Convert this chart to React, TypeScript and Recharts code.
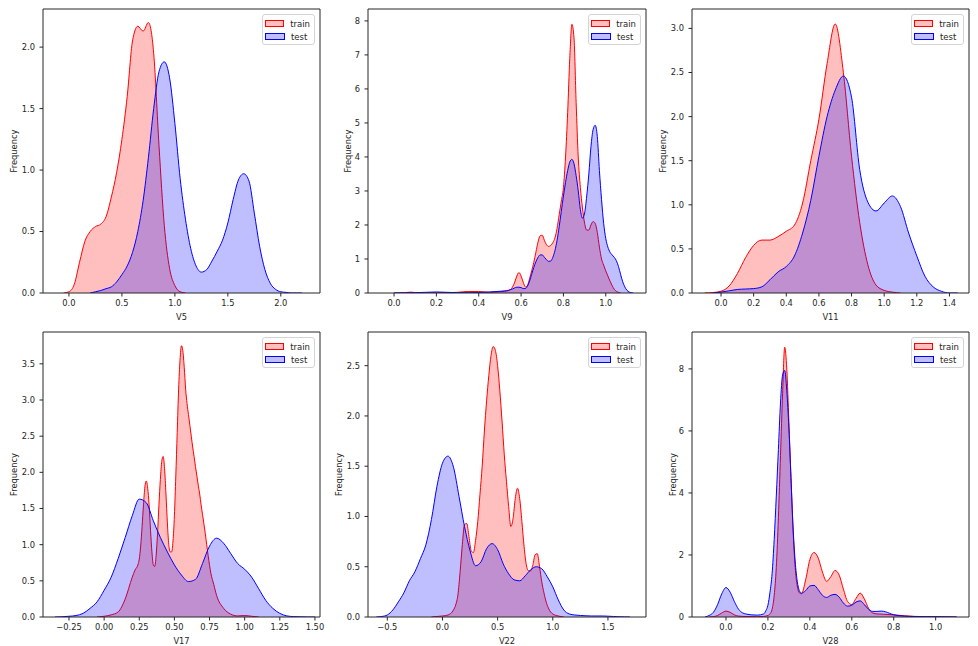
import React from 'react';
import { ComposedChart, Area, XAxis, YAxis, ReferenceArea, Legend } from 'recharts';

const FONT = '"DejaVu Sans", sans-serif';
const INK = '#262626';

const seriesNames = ['train', 'test'];
const seriesColors = ['#ff0000', '#0000ff'];

// V5
const v5TrainX = [-0.05, 0, 0.05, 0.1, 0.15, 0.2, 0.25, 0.3, 0.35, 0.4, 0.45, 0.5, 0.55, 0.6, 0.65, 0.7, 0.75, 0.8, 0.85, 0.9, 0.95, 1.0, 1.05, 1.1];
const v5TrainY = [0, 0.01, 0.07, 0.25, 0.42, 0.5, 0.54, 0.56, 0.62, 0.78, 0.98, 1.25, 1.6, 2.05, 2.17, 2.13, 2.2, 1.95, 1.2, 0.55, 0.2, 0.06, 0.01, 0];
const v5TestX = [0.2, 0.25, 0.3, 0.35, 0.4, 0.45, 0.5, 0.55, 0.6, 0.65, 0.7, 0.75, 0.8, 0.85, 0.9, 0.95, 1.0, 1.05, 1.1, 1.15, 1.2, 1.25, 1.3, 1.35, 1.4, 1.45, 1.5, 1.55, 1.6, 1.65, 1.7, 1.75, 1.8, 1.85, 1.9, 1.95, 2.0, 2.05, 2.1, 2.15, 2.2];
const v5TestY = [0, 0.01, 0.02, 0.035, 0.05, 0.09, 0.15, 0.22, 0.33, 0.5, 0.75, 1.1, 1.5, 1.8, 1.88, 1.75, 1.38, 0.93, 0.6, 0.36, 0.22, 0.17, 0.19, 0.26, 0.34, 0.43, 0.57, 0.76, 0.92, 0.97, 0.91, 0.65, 0.38, 0.19, 0.08, 0.03, 0.01, 0.005, 0, 0, 0];

// V9
const v9TrainX = [0, 0.05, 0.08, 0.1, 0.15, 0.2, 0.25, 0.3, 0.35, 0.4, 0.45, 0.5, 0.52, 0.54,
  0.55, 0.56, 0.57, 0.58, 0.59, 0.6, 0.61, 0.62, 0.63, 0.64,
  0.65, 0.66, 0.67, 0.68, 0.69, 0.7, 0.71, 0.72, 0.73, 0.74,
  0.75, 0.76, 0.77, 0.78, 0.79, 0.8, 0.81, 0.82, 0.83, 0.84,
  0.85, 0.86, 0.87, 0.88, 0.89, 0.9, 0.91, 0.92, 0.93, 0.94,
  0.95, 0.96, 0.97, 0.98, 0.99, 1.0, 1.01, 1.02, 1.03, 1.04,
  1.05, 1.06, 1.07];
const v9TrainY = [0, 0.01, 0.025, 0.01, 0, 0.005, 0.01, 0.02, 0.045, 0.045, 0.02, 0.04, 0.05, 0.07,
  0.1, 0.18, 0.32, 0.5, 0.6, 0.5, 0.32, 0.18, 0.22, 0.42,
  0.65, 0.9, 1.2, 1.5, 1.68, 1.7, 1.55, 1.42, 1.37, 1.4,
  1.48, 1.62, 1.9, 2.3, 2.7, 3.1, 4.0, 5.3, 6.9, 7.9,
  7.5, 5.6, 4.0, 3.1, 2.5, 2.05, 1.85, 1.85, 2.0, 2.1,
  2.05, 1.78, 1.35, 1.0, 0.82, 0.65, 0.5, 0.35, 0.22, 0.11,
  0.05, 0.02, 0];
const v9TestX = [0, 0.05, 0.1, 0.15, 0.2, 0.25, 0.3, 0.35, 0.4, 0.45, 0.5, 0.52, 0.54,
  0.55, 0.56, 0.57, 0.58, 0.59, 0.6, 0.61, 0.62, 0.63, 0.64,
  0.65, 0.66, 0.67, 0.68, 0.69, 0.7, 0.71, 0.72, 0.73, 0.74,
  0.75, 0.76, 0.77, 0.78, 0.79, 0.8, 0.81, 0.82, 0.83, 0.84,
  0.85, 0.86, 0.87, 0.88, 0.89, 0.9, 0.91, 0.92, 0.93, 0.94,
  0.95, 0.96, 0.97, 0.98, 0.99, 1.0, 1.01, 1.02, 1.03, 1.04,
  1.05, 1.06, 1.07, 1.08, 1.09, 1.1, 1.11, 1.12, 1.13];
const v9TestY = [0, 0.005, 0.01, 0.02, 0.03, 0.02, 0.01, 0.01, 0.015, 0.03, 0.05, 0.06, 0.08,
  0.1, 0.12, 0.15, 0.17, 0.17, 0.16, 0.13, 0.13, 0.2, 0.35,
  0.55, 0.75, 0.92, 1.05, 1.12, 1.12, 1.05, 0.98, 0.93, 0.94,
  1.05, 1.25, 1.55, 1.95, 2.4, 2.85, 3.25, 3.6, 3.85, 3.93,
  3.8, 3.45, 3.0, 2.45, 2.2, 2.35, 2.85, 3.5, 4.3, 4.8,
  4.93, 4.6, 3.6, 2.75, 2.05, 1.6, 1.35, 1.2, 1.12, 1.05,
  0.95, 0.78, 0.55, 0.33, 0.18, 0.08, 0.03, 0.01, 0];

// V11
const v11TrainX = [-0.1, -0.05, 0, 0.05, 0.1, 0.15, 0.2, 0.25, 0.3, 0.35, 0.4, 0.45, 0.5, 0.55, 0.6, 0.65, 0.7, 0.75, 0.8, 0.85, 0.9, 0.95, 1.0, 1.05, 1.1];
const v11TrainY = [0, 0.005, 0.02, 0.08, 0.22, 0.4, 0.54, 0.6, 0.6, 0.64, 0.7, 0.77, 1.02, 1.5, 1.97, 2.6, 3.05, 2.5, 1.55, 0.8, 0.32, 0.09, 0.03, 0.01, 0];
const v11TestX = [-0.05, 0, 0.05, 0.1, 0.15, 0.2, 0.25, 0.3, 0.35, 0.4, 0.45, 0.5, 0.55, 0.6, 0.65, 0.7, 0.75, 0.8, 0.85, 0.9, 0.95, 1.0, 1.05, 1.1, 1.15, 1.2, 1.25, 1.3, 1.35, 1.4, 1.45];
const v11TestY = [0, 0.01, 0.025, 0.04, 0.045, 0.05, 0.07, 0.15, 0.24, 0.3, 0.42, 0.68, 1.05, 1.55, 2.0, 2.3, 2.46, 2.22, 1.4, 1.03, 0.93, 1.02, 1.1, 0.98, 0.68, 0.42, 0.19, 0.07, 0.02, 0, 0];

// V17
const v17TrainX = [-0.05, 0, 0.05, 0.1, 0.15, 0.2, 0.22,
  0.24, 0.25, 0.26, 0.27, 0.28, 0.29, 0.3, 0.31, 0.32, 0.33,
  0.34, 0.35, 0.36, 0.37, 0.38, 0.39, 0.4, 0.41, 0.42, 0.43,
  0.44, 0.45, 0.46, 0.47, 0.48, 0.49, 0.5, 0.51, 0.52, 0.53,
  0.54, 0.55, 0.56, 0.57, 0.58, 0.59, 0.6, 0.61, 0.62, 0.63,
  0.64, 0.65, 0.66, 0.67, 0.68, 0.69, 0.7,
  0.72, 0.74, 0.76, 0.78, 0.8, 0.85, 0.9, 0.95, 1.0, 1.05, 1.1];
const v17TrainY = [0, 0.01, 0.03, 0.07, 0.25, 0.55, 0.65,
  0.72, 0.8, 0.98, 1.25, 1.55, 1.8, 1.88, 1.78, 1.55, 1.2,
  0.9, 0.72, 0.7, 0.85, 1.15, 1.55, 1.9, 2.15, 2.22, 2.05,
  1.7, 1.3, 1.0, 0.9, 0.9, 1.05, 1.4, 1.95, 2.55, 3.15,
  3.55, 3.75, 3.68, 3.45, 3.15, 2.95, 2.8, 2.65, 2.5, 2.35,
  2.22, 2.08, 1.95, 1.82, 1.7, 1.55, 1.42,
  1.15, 0.85, 0.6, 0.45, 0.3, 0.12, 0.04, 0.015, 0.02, 0.01, 0];
const v17TestX = [-0.35, -0.3, -0.25, -0.2, -0.15, -0.1, -0.05, 0, 0.05, 0.1,
  0.15, 0.2, 0.25, 0.3, 0.35, 0.4, 0.45, 0.5, 0.55, 0.6,
  0.65, 0.7, 0.75, 0.8, 0.85, 0.9, 0.95, 1.0, 1.05, 1.1,
  1.15, 1.2, 1.25, 1.3, 1.35, 1.4, 1.45, 1.5];
const v17TestY = [0, 0.003, 0.01, 0.02, 0.05, 0.12, 0.21, 0.37, 0.55, 0.81,
  1.1, 1.4, 1.63, 1.58, 1.33, 1.1, 0.9, 0.72, 0.58, 0.49,
  0.52, 0.74, 0.98, 1.09, 1.02, 0.88, 0.74, 0.66, 0.55, 0.39,
  0.23, 0.12, 0.05, 0.015, 0.005, 0.002, 0, 0];

// V22
const v22TrainX = [-0.1, -0.05, 0, 0.05,
  0.1, 0.12, 0.14, 0.16, 0.18, 0.2, 0.22, 0.24, 0.26, 0.28,
  0.3, 0.32, 0.34, 0.36, 0.38, 0.4, 0.42, 0.44, 0.46, 0.48,
  0.5, 0.52, 0.54, 0.56, 0.58, 0.6, 0.62, 0.64, 0.66, 0.68,
  0.7, 0.72, 0.74, 0.76, 0.78, 0.8, 0.82, 0.84, 0.86, 0.88,
  0.9, 0.92, 0.94, 0.96, 0.98, 1.0,
  1.05, 1.1];
const v22TrainY = [0, 0.005, 0.01, 0.02,
  0.07, 0.12, 0.22, 0.45, 0.72, 0.92, 0.93, 0.8, 0.66, 0.64,
  0.76, 0.95, 1.22, 1.5, 1.85, 2.15, 2.4, 2.6, 2.69, 2.65,
  2.5, 2.25, 1.95, 1.62, 1.35, 1.1, 0.9, 0.98, 1.18, 1.28,
  1.18, 0.95, 0.7, 0.52, 0.46, 0.46, 0.52, 0.62, 0.63, 0.5,
  0.35, 0.24, 0.15, 0.09, 0.05, 0.03,
  0.01, 0];
const v22TestX = [-0.6, -0.55, -0.5, -0.45, -0.4, -0.35, -0.3, -0.25, -0.2, -0.15,
  -0.1, -0.05, 0, 0.05, 0.1, 0.15, 0.2, 0.25, 0.3, 0.35,
  0.4, 0.45, 0.5, 0.55, 0.6, 0.65, 0.7, 0.75, 0.8, 0.85,
  0.9, 0.95, 1.0, 1.05, 1.1, 1.15, 1.2, 1.25, 1.3, 1.35,
  1.4, 1.45, 1.5, 1.55, 1.6, 1.65, 1.7];
const v22TestY = [0, 0.005, 0.02, 0.07, 0.15, 0.24, 0.36, 0.45, 0.58, 0.72,
  0.97, 1.3, 1.53, 1.6, 1.49, 1.2, 0.9, 0.66, 0.51, 0.55,
  0.68, 0.73, 0.67, 0.53, 0.43, 0.37, 0.36, 0.41, 0.47, 0.5,
  0.48, 0.4, 0.3, 0.17, 0.07, 0.03, 0.02, 0.015, 0.012, 0.01,
  0.01, 0.01, 0.008, 0.005, 0.002, 0.001, 0];

// V28
const v28TrainX = [-0.08, -0.06, -0.04, -0.02, 0, 0.02, 0.04, 0.06, 0.08, 0.1, 0.15, 0.18,
  0.2, 0.21, 0.22, 0.23, 0.24, 0.25, 0.26, 0.27, 0.28, 0.29,
  0.3, 0.31, 0.32, 0.33, 0.34, 0.35, 0.36,
  0.38, 0.4, 0.42, 0.44, 0.46, 0.48, 0.5, 0.52, 0.54, 0.56,
  0.58, 0.6, 0.62, 0.64, 0.66, 0.68, 0.7, 0.72,
  0.75, 0.8, 0.85, 0.9, 0.95, 1.0, 1.05, 1.1];
const v28TrainY = [0, 0.01, 0.05, 0.13, 0.19, 0.15, 0.07, 0.03, 0.02, 0.015, 0.01, 0.02,
  0.05, 0.1, 0.25, 0.7, 1.6, 3.2, 5.2, 7.2, 8.7, 8.0,
  6.3, 4.5, 2.8, 1.6, 1.0, 0.78, 0.75,
  1.2, 1.85, 2.08, 1.9, 1.45, 1.15, 1.3, 1.5, 1.35, 0.9,
  0.5, 0.4, 0.6, 0.77, 0.58, 0.28, 0.13, 0.1,
  0.09, 0.07, 0.04, 0.02, 0.01, 0.005, 0.002, 0];
const v28TestX = [-0.1, -0.08, -0.06, -0.04, -0.02, 0, 0.02, 0.04, 0.06, 0.08, 0.1, 0.12, 0.15, 0.18, 0.19,
  0.2, 0.21, 0.22, 0.23, 0.24, 0.25, 0.26, 0.27, 0.28, 0.29,
  0.3, 0.31, 0.32, 0.33, 0.34, 0.35, 0.36,
  0.38, 0.4, 0.42, 0.44, 0.46, 0.48, 0.5, 0.52, 0.54, 0.56,
  0.58, 0.6, 0.62, 0.64, 0.66, 0.68, 0.7, 0.72, 0.74, 0.76,
  0.78, 0.8,
  0.85, 0.9, 0.95, 1.0, 1.05, 1.1];
const v28TestY = [0, 0.05, 0.15, 0.4, 0.75, 0.95, 0.8, 0.5, 0.25, 0.13, 0.09, 0.07, 0.06, 0.1, 0.2,
  0.38, 0.8, 1.4, 2.5, 3.9, 5.4, 6.9, 7.8, 7.95, 7.3,
  6.1, 4.5, 2.9, 1.8, 1.15, 0.85, 0.77,
  0.85, 1.0, 1.02, 0.88, 0.7, 0.63, 0.7, 0.73, 0.64, 0.45,
  0.35, 0.38, 0.48, 0.52, 0.4, 0.25, 0.18, 0.18, 0.19, 0.17,
  0.12, 0.07,
  0.03, 0.015, 0.01, 0.01, 0.005, 0];

// tick values per panel
const v5XTicks = [0, 0.5, 1, 1.5, 2];
const v5YTicks = [0, 0.5, 1, 1.5, 2];
const v9XTicks = [0, 0.2, 0.4, 0.6, 0.8, 1];
const v9YTicks = [0, 1, 2, 3, 4, 5, 6, 7, 8];
const v11XTicks = [0, 0.2, 0.4, 0.6, 0.8, 1, 1.2, 1.4];
const v11YTicks = [0, 0.5, 1, 1.5, 2, 2.5, 3];
const v17XTicks = [-0.25, 0, 0.25, 0.5, 0.75, 1, 1.25, 1.5];
const v17YTicks = [0, 0.5, 1, 1.5, 2, 2.5, 3, 3.5];
const v22XTicks = [-0.5, 0, 0.5, 1, 1.5];
const v22YTicks = [0, 0.5, 1, 1.5, 2, 2.5];
const v28XTicks = [0, 0.2, 0.4, 0.6, 0.8, 1];
const v28YTicks = [0, 2, 4, 6, 8];

const toPoints = (xs: number[], ys: number[]) => xs.map((x, i) => ({ x, y: ys[i] }));
const fmt = (v: number, d: number) => (v < 0 ? '\u2212' : '') + Math.abs(v).toFixed(d);

const panels = [
  { name: 'V5', train: [v5TrainX, v5TrainY], test: [v5TestX, v5TestY], xDomain: [-0.245, 2.37], yMax: 2.31, xTicks: v5XTicks, yTicks: v5YTicks, xDec: 1, yDec: 1, left: 43, top: 9, width: 277, height: 284, gap: 29 },
  { name: 'V9', train: [v9TrainX, v9TrainY], test: [v9TestX, v9TestY], xDomain: [-0.123, 1.19], yMax: 8.35, xTicks: v9XTicks, yTicks: v9YTicks, xDec: 1, yDec: 0, left: 368, top: 9, width: 278, height: 284, gap: 20 },
  { name: 'V11', train: [v11TrainX, v11TrainY], test: [v11TestX, v11TestY], xDomain: [-0.178, 1.52], yMax: 3.22, xTicks: v11XTicks, yTicks: v11YTicks, xDec: 1, yDec: 1, left: 692, top: 9, width: 277, height: 284, gap: 29 },
  { name: 'V17', train: [v17TrainX, v17TrainY], test: [v17TestX, v17TestY], xDomain: [-0.435, 1.536], yMax: 3.94, xTicks: v17XTicks, yTicks: v17YTicks, xDec: 2, yDec: 1, left: 43, top: 332, width: 277, height: 285, gap: 29 },
  { name: 'V22', train: [v22TrainX, v22TrainY], test: [v22TestX, v22TestY], xDomain: [-0.675, 1.845], yMax: 2.835, xTicks: v22XTicks, yTicks: v22YTicks, xDec: 1, yDec: 1, left: 368, top: 332, width: 278, height: 285, gap: 29 },
  { name: 'V28', train: [v28TrainX, v28TrainY], test: [v28TestX, v28TestY], xDomain: [-0.162, 1.159], yMax: 9.19, xTicks: v28XTicks, yTicks: v28YTicks, xDec: 1, yDec: 0, left: 692, top: 332, width: 277, height: 285, gap: 19 },
];

const AXIS_W = 40;
const AXIS_H = 35;
const PAD = 5;

const LegendBox = () => (
  <div
    style={{
      border: '1px solid #d4d4d4',
      borderRadius: 3,
      background: 'rgba(255,255,255,0.8)',
      padding: '2px 4px 1px 2px',
      fontSize: 8.5,
      fontFamily: FONT,
      color: INK,
      boxSizing: 'border-box',
    }}
  >
    {seriesNames.map((n, i) => (
      <div key={n} style={{ display: 'flex', alignItems: 'center', height: 13 }}>
        <span
          style={{
            display: 'inline-block',
            width: 20,
            height: 7,
            marginRight: 6,
            boxSizing: 'border-box',
            border: `1px solid ${seriesColors[i]}`,
            background: i === 0 ? 'rgba(255,0,0,0.25)' : 'rgba(0,0,255,0.25)',
          }}
        />
        {n}
      </div>
    ))}
  </div>
);

const KdePanel = ({ p }: { p: (typeof panels)[number] }) => {
  const tickStyle = { fontSize: 8.3, fill: INK, fontFamily: FONT };
  return (
    <div style={{ position: 'absolute', left: p.left - AXIS_W, top: p.top - PAD }}>
      <ComposedChart
        width={AXIS_W + p.width + PAD}
        height={PAD + p.height + AXIS_H}
        margin={{ top: PAD, right: PAD, bottom: 0, left: 0 }}
      >
        <XAxis
          dataKey="x"
          type="number"
          domain={p.xDomain}
          allowDataOverflow
          ticks={p.xTicks}
          interval={0}
          tickFormatter={(v: number) => fmt(v, p.xDec)}
          height={AXIS_H}
          axisLine={false}
          tickLine={{ stroke: INK }}
          tickSize={3.5}
          tickMargin={4}
          tick={tickStyle}
          label={{
            content: (props: any) => {
              const vb = props.viewBox;
              return (
                <text x={vb.x + vb.width / 2} y={vb.y + 27} textAnchor="middle" fontSize={8.3} fill={INK} fontFamily={FONT}>
                  {p.name}
                </text>
              );
            },
          }}
        />
        <YAxis
          type="number"
          domain={[0, p.yMax]}
          allowDataOverflow
          ticks={p.yTicks}
          interval={0}
          tickFormatter={(v: number) => fmt(v, p.yDec)}
          width={AXIS_W}
          axisLine={false}
          tickLine={{ stroke: INK }}
          tickSize={3.5}
          tickMargin={4.5}
          tick={tickStyle}
          label={{
            content: (props: any) => {
              const vb = props.viewBox;
              const x = vb.x + vb.width - p.gap;
              const y = vb.y + vb.height / 2;
              return (
                <text x={x} y={y} transform={`rotate(-90 ${x} ${y})`} textAnchor="middle" dominantBaseline="central" fontSize={8.3} fill={INK} fontFamily={FONT}>
                  Frequency
                </text>
              );
            },
          }}
        />
        <Area
          name={seriesNames[0]}
          data={toPoints(p.train[0], p.train[1])}
          dataKey="y"
          type="monotone"
          stroke={seriesColors[0]}
          strokeWidth={1}
          fill={seriesColors[0]}
          fillOpacity={0.25}
          isAnimationActive={false}
          dot={false}
          activeDot={false}
        />
        <Area
          name={seriesNames[1]}
          data={toPoints(p.test[0], p.test[1])}
          dataKey="y"
          type="monotone"
          stroke={seriesColors[1]}
          strokeWidth={1}
          fill={seriesColors[1]}
          fillOpacity={0.25}
          isAnimationActive={false}
          dot={false}
          activeDot={false}
        />
        <ReferenceArea
          x1={p.xDomain[0]}
          x2={p.xDomain[1]}
          y1={0}
          y2={p.yMax}
          fill="none"
          stroke={INK}
          strokeWidth={1}
          ifOverflow="visible"
        />
        <Legend
          layout="vertical"
          align="center"
          verticalAlign="middle"
          wrapperStyle={{ left: AXIS_W + p.width - 58, top: PAD + 5, width: 53, height: 29 }}
          content={() => <LegendBox />}
        />
      </ComposedChart>
    </div>
  );
};

export default function App() {
  return (
    <div style={{ position: 'absolute', left: 0, top: 0, width: 978, height: 646, background: '#fff', fontFamily: FONT }}>
      {panels.map((p) => (
        <KdePanel key={p.name} p={p} />
      ))}
    </div>
  );
}
